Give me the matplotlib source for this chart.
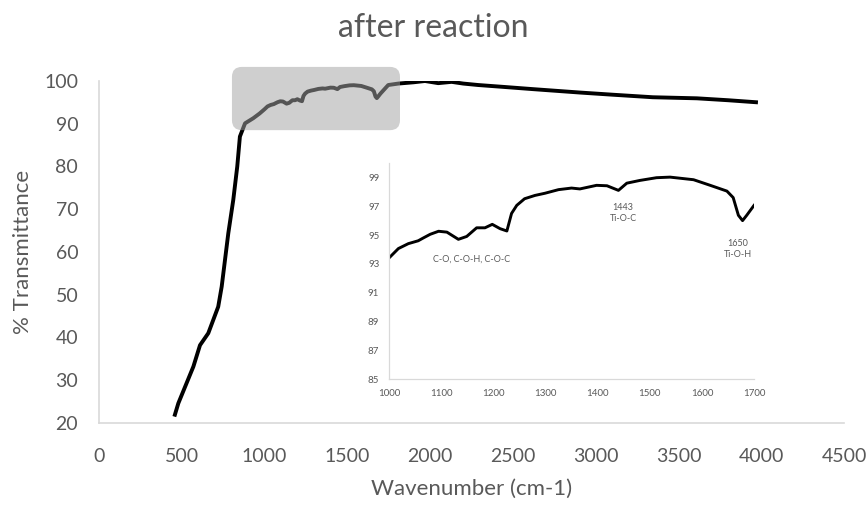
import matplotlib.pyplot as plt
from matplotlib.patches import FancyBboxPatch

plt.rcParams['font.family'] = ['Lato', 'DejaVu Sans']

# FTIR spectrum after reaction (wavenumber in cm-1, % transmittance)
wavenumber = [455, 479, 570, 610, 660, 720, 741, 781, 811, 835, 851, 882, 932, 970,
              999, 1018, 1037, 1056, 1066, 1079, 1095, 1111, 1133, 1149, 1168, 1184,
              1198, 1213, 1226, 1235, 1245, 1260, 1280, 1299, 1325, 1350, 1366, 1398,
              1418, 1440, 1456, 1481, 1513, 1539, 1584, 1616, 1648, 1660, 1670, 1678,
              1686, 1700, 1747, 1808, 1900, 1969, 2049, 2130, 2200, 2290, 2450, 2620,
              2905, 3100, 3345, 3611, 3800, 3980]
transmittance = [21.5, 24.6, 33.2, 38.2, 41.0, 47.2, 51.9, 64.4, 72.2, 80.0, 87.0, 90.1,
                 91.3, 92.4, 93.37, 94.06, 94.4, 94.6, 94.8, 95.05, 95.26, 95.2, 94.7,
                 94.9, 95.5, 95.5, 95.74, 95.44, 95.28, 96.5, 97.06, 97.52, 97.75, 97.9,
                 98.15, 98.26, 98.2, 98.45, 98.42, 98.1, 98.6, 98.79, 98.98, 99.02,
                 98.84, 98.45, 98.05, 97.6, 96.37, 96.0, 96.37, 97.06, 99.06, 99.4,
                 99.7, 100.0, 99.5, 99.8, 99.4, 99.06, 98.6, 98.1, 97.3, 96.8, 96.2,
                 95.95, 95.5, 95.0]

# peak labels in the zoomed panel
peak_labels = ['C-O, C-O-H, C-O-C', '1443\nTi-O-C', '1650\nTi-O-H']
peak_x = [1159, 1449, 1669]
peak_y = [93.3, 96.5, 94.0]

text_gray = '#595959'
spine_gray = '#d9d9d9'

fig = plt.figure(figsize=(8.67, 5.05), dpi=100)
ax = fig.add_axes([0.1142, 0.1624, 0.8593, 0.6772])
ax.plot(wavenumber, transmittance, color='black', lw=2.8, solid_capstyle='butt')
ax.set_xlim(0, 4500)
ax.set_ylim(20, 100)
ax.set_xticks(range(0, 4501, 500))
ax.set_yticks(range(20, 101, 10))
ax.tick_params(length=0, labelsize=14, labelcolor=text_gray)
ax.tick_params(axis='x', pad=18)
ax.tick_params(axis='y', pad=15)
for side in ('top', 'right'):
    ax.spines[side].set_visible(False)
for side in ('left', 'bottom'):
    ax.spines[side].set_color(spine_gray)
    ax.spines[side].set_linewidth(1.2)
ax.set_xlabel('Wavenumber (cm-1)', fontsize=16, color=text_gray, labelpad=10)
ax.set_ylabel('% Transmittance', fontsize=16, color=text_gray, labelpad=8)
fig.text(0.5, 0.945, 'after reaction', ha='center', va='center',
         fontsize=23, color=text_gray)

# translucent highlight over the region shown in the zoomed panel
box = FancyBboxPatch((803, 88.5), 1015, 14.8,
                     boxstyle='round,pad=0,rounding_size=60',
                     mutation_aspect=0.0387, facecolor='#a4a4a4', alpha=0.52,
                     edgecolor='none', clip_on=False, zorder=3)
ax.add_patch(box)

# zoomed panel 1000-1700 cm-1
axin = fig.add_axes([0.4487, 0.2495, 0.4210, 0.4277])
axin.plot(wavenumber, transmittance, color='black', lw=2.1)
axin.set_xlim(1000, 1700)
axin.set_ylim(85, 100)
axin.set_xticks(range(1000, 1701, 100))
axin.set_yticks(range(85, 100, 2))
axin.tick_params(length=0, labelsize=7, labelcolor=text_gray, pad=7)
for side in ('top', 'right'):
    axin.spines[side].set_visible(False)
for side in ('left', 'bottom'):
    axin.spines[side].set_color(spine_gray)
    axin.spines[side].set_linewidth(0.9)
for label, x, y in zip(peak_labels, peak_x, peak_y):
    axin.text(x, y, label, ha='center', va='center', fontsize=6.5,
              color=text_gray, linespacing=1.3)

fig.savefig('out.png', dpi=100)
